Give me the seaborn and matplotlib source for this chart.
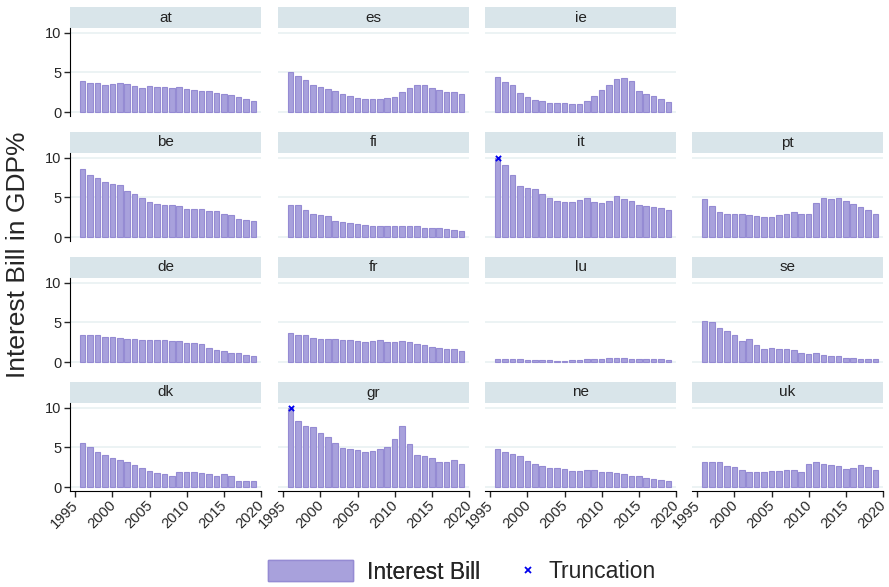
import numpy as np
import pandas as pd
import seaborn as sns
import matplotlib
matplotlib.use("Agg")
from matplotlib import pyplot as plt
from matplotlib import transforms
from matplotlib.patches import Patch
from matplotlib.lines import Line2D

#--- data (interest bill in % of GDP, 1996-2019)

years = list(range(1996, 2020))

at = [3.9, 3.6, 3.6, 3.4, 3.5, 3.6, 3.5, 3.25, 3.0, 3.25, 3.1, 3.1,
      3.0, 3.2, 2.9, 2.8, 2.7, 2.6, 2.45, 2.3, 2.1, 1.85, 1.65, 1.45]
es = [5.0, 4.5, 4.05, 3.4, 3.2, 2.95, 2.65, 2.3, 2.0, 1.75, 1.6, 1.6,
      1.6, 1.75, 1.9, 2.5, 3.05, 3.45, 3.4, 3.0, 2.75, 2.55, 2.5, 2.25]
ie = [4.4, 3.75, 3.35, 2.35, 1.95, 1.5, 1.35, 1.2, 1.1, 1.1, 1.0, 1.0,
      1.35, 2.0, 2.8, 3.35, 4.2, 4.3, 3.9, 2.65, 2.3, 2.0, 1.65, 1.25]
be = [8.55, 7.8, 7.45, 6.9, 6.7, 6.55, 5.8, 5.4, 4.9, 4.4, 4.15, 4.0,
      4.0, 3.9, 3.55, 3.55, 3.5, 3.25, 3.25, 2.85, 2.75, 2.3, 2.1, 2.0]
fi = [4.05, 4.05, 3.4, 2.9, 2.75, 2.6, 2.0, 1.85, 1.75, 1.6, 1.5, 1.45,
      1.4, 1.35, 1.35, 1.45, 1.45, 1.35, 1.2, 1.2, 1.1, 1.0, 0.95, 0.8]
it = [10.0, 9.1, 7.8, 6.4, 6.15, 6.0, 5.4, 4.95, 4.6, 4.45, 4.4, 4.7,
      4.9, 4.4, 4.25, 4.6, 5.15, 4.8, 4.6, 4.1, 3.9, 3.75, 3.6, 3.35]
pt = [4.8, 3.9, 3.1, 2.95, 2.95, 2.95, 2.8, 2.65, 2.55, 2.55, 2.75, 2.95,
      3.1, 2.95, 2.95, 4.25, 4.9, 4.8, 4.9, 4.6, 4.15, 3.8, 3.35, 2.95]
de = [3.45, 3.35, 3.35, 3.1, 3.2, 3.0, 2.95, 2.9, 2.8, 2.75, 2.75, 2.75,
      2.65, 2.65, 2.45, 2.45, 2.3, 1.8, 1.55, 1.35, 1.2, 1.1, 0.95, 0.8]
fr = [3.6, 3.45, 3.35, 3.0, 2.95, 2.95, 2.95, 2.8, 2.75, 2.7, 2.55, 2.7,
      2.8, 2.55, 2.5, 2.7, 2.55, 2.3, 2.1, 1.95, 1.8, 1.7, 1.7, 1.45]
lu = [0.4, 0.35, 0.4, 0.4, 0.3, 0.3, 0.3, 0.2, 0.15, 0.15, 0.2, 0.3,
      0.4, 0.4, 0.4, 0.55, 0.45, 0.55, 0.4, 0.4, 0.4, 0.4, 0.35, 0.3]
se = [5.15, 5.0, 4.35, 3.9, 3.35, 2.65, 2.95, 2.1, 1.7, 1.8, 1.7, 1.7,
      1.55, 1.2, 1.05, 1.2, 0.95, 0.8, 0.7, 0.55, 0.45, 0.4, 0.4, 0.4]
dk = [5.6, 5.0, 4.45, 4.1, 3.7, 3.35, 3.1, 2.75, 2.45, 2.05, 1.8, 1.6,
      1.45, 1.95, 1.85, 1.95, 1.8, 1.7, 1.45, 1.6, 1.35, 0.8, 0.8, 0.7]
gr = [10.0, 8.3, 7.7, 7.55, 6.85, 6.3, 5.5, 4.9, 4.75, 4.65, 4.4, 4.5,
      4.75, 5.0, 6.05, 7.7, 5.4, 4.1, 3.95, 3.6, 3.2, 3.1, 3.35, 2.95]
ne = [4.75, 4.4, 4.15, 3.9, 3.25, 2.85, 2.6, 2.35, 2.35, 2.25, 2.0, 2.0,
      2.1, 2.1, 1.85, 1.85, 1.75, 1.6, 1.45, 1.35, 1.2, 1.0, 0.95, 0.8]
uk = [3.1, 3.1, 3.1, 2.6, 2.5, 2.1, 1.85, 1.85, 1.85, 2.0, 2.0, 2.1,
      2.15, 1.85, 2.85, 3.1, 2.85, 2.8, 2.6, 2.25, 2.4, 2.75, 2.5, 2.1]

# truncated values (capped at 10)
trunc_country = ['it', 'gr']
trunc_year = [1996, 1996]
trunc_value = [10.0, 10.0]

series = {'at': at, 'es': es, 'ie': ie, 'be': be, 'fi': fi, 'it': it,
          'pt': pt, 'de': de, 'fr': fr, 'lu': lu, 'se': se, 'dk': dk,
          'gr': gr, 'ne': ne, 'uk': uk}

# grid layout (row, col) as in the original
layout = [['at', 'es', 'ie', None],
          ['be', 'fi', 'it', 'pt'],
          ['de', 'fr', 'lu', 'se'],
          ['dk', 'gr', 'ne', 'uk']]

df = pd.DataFrame([(c, y, v) for c, vals in series.items() for y, v in zip(years, vals)],
                  columns=['country', 'year', 'value'])
tr = pd.DataFrame({'country': trunc_country, 'year': trunc_year, 'value': trunc_value})

#--- plotting

sns.set_style('white')
plt.rcParams['font.family'] = ['Liberation Sans', 'DejaVu Sans']

W, H = 889, 587
fig = plt.figure(figsize=(W / 100, H / 100), dpi=100)

bar_fc = '#a8a1dc'
bar_ec = '#958bd3'
strip_c = '#d9e5ea'
grid_c = '#e9f1f2'

col_x = [70, 278, 485, 692]
col_w = 191
row_top = [7, 132, 257, 382]
strip_h = 21
plot_h = 88

def fr_box(x0, y0, w, h):
    return [x0 / W, 1 - (y0 + h) / H, w / W, h / H]

# nudge rotated year labels a bit left so the last one stays inside
shift = transforms.ScaledTranslation(-4 / 100, 0, fig.dpi_scale_trans)

for r, row in enumerate(layout):
    for c, name in enumerate(row):
        if name is None:
            continue
        x0 = col_x[c]
        sax = fig.add_axes(fr_box(x0, row_top[r], col_w, strip_h))
        sax.set_facecolor(strip_c)
        sax.set_xticks([]); sax.set_yticks([])
        for s in sax.spines.values():
            s.set_visible(False)
        sax.text(0.5, 0.5, name, ha='center', va='center', fontsize=11,
                 color='#222222', transform=sax.transAxes)

        ax = fig.add_axes(fr_box(x0, row_top[r] + strip_h, col_w, plot_h))
        sub = df[df.country == name]
        sns.barplot(data=sub, x='year', y='value', native_scale=True, width=0.75,
                    color=bar_fc, edgecolor=bar_ec, linewidth=0.8, saturation=1,
                    ax=ax, zorder=3)
        t = tr[tr.country == name]
        if len(t):
            sns.scatterplot(data=t, x='year', y='value', marker='x', color='#0000ee',
                            s=14, linewidth=1.3, ax=ax, zorder=5, legend=False)
        ax.set_xlim(1994.3, 2020.0)
        ax.set_ylim(-0.5, 10.6)
        for g in (0, 5, 10):
            ax.axhline(g, color=grid_c, lw=1.2, zorder=1)
        ax.set_xlabel('')
        ax.set_ylabel('')
        for s in ax.spines.values():
            s.set_visible(False)
        ax.set_yticks([0, 5, 10])
        ax.set_xticks([1995, 2000, 2005, 2010, 2015, 2020])
        if c == 0:
            ax.spines['left'].set_visible(True)
            ax.spines['left'].set_color('black')
            ax.tick_params(axis='y', length=4, width=1, labelsize=10.5, pad=2, left=True)
        else:
            ax.tick_params(axis='y', left=False, labelleft=False)
        if r == 3:
            ax.spines['bottom'].set_visible(True)
            ax.spines['bottom'].set_color('black')
            ax.tick_params(axis='x', length=4, width=1, labelsize=10.5, pad=1, bottom=True)
            for lab in ax.get_xticklabels():
                lab.set_rotation(45)
                lab.set_ha('right')
                lab.set_rotation_mode('anchor')
                lab.set_transform(lab.get_transform() + shift)
        else:
            ax.tick_params(axis='x', bottom=False, labelbottom=False)

fig.text(18 / W, 1 - 255 / H, 'Interest Bill in GDP%', rotation=90,
         ha='center', va='center', fontsize=19)

# two one-entry legends so each handle gets its own width
leg1 = fig.legend([Patch(facecolor=bar_fc, edgecolor=bar_ec, linewidth=1)],
                  ['Interest Bill'], loc='center',
                  bbox_to_anchor=(374 / W, 1 - 572 / H), frameon=False,
                  fontsize=16.5, handlelength=3.7, handleheight=1.0,
                  handletextpad=0.6)
fig.add_artist(leg1)
fig.legend([Line2D([], [], marker='x', color='#0000ee', linestyle='none',
                   markersize=4, markeredgewidth=1.3)],
           ['Truncation'], loc='center',
           bbox_to_anchor=(587 / W, 1 - 572 / H), frameon=False,
           fontsize=16.5, handlelength=0.8, handletextpad=0.5)

plt.savefig('out.png', dpi=100)
plt.close()
